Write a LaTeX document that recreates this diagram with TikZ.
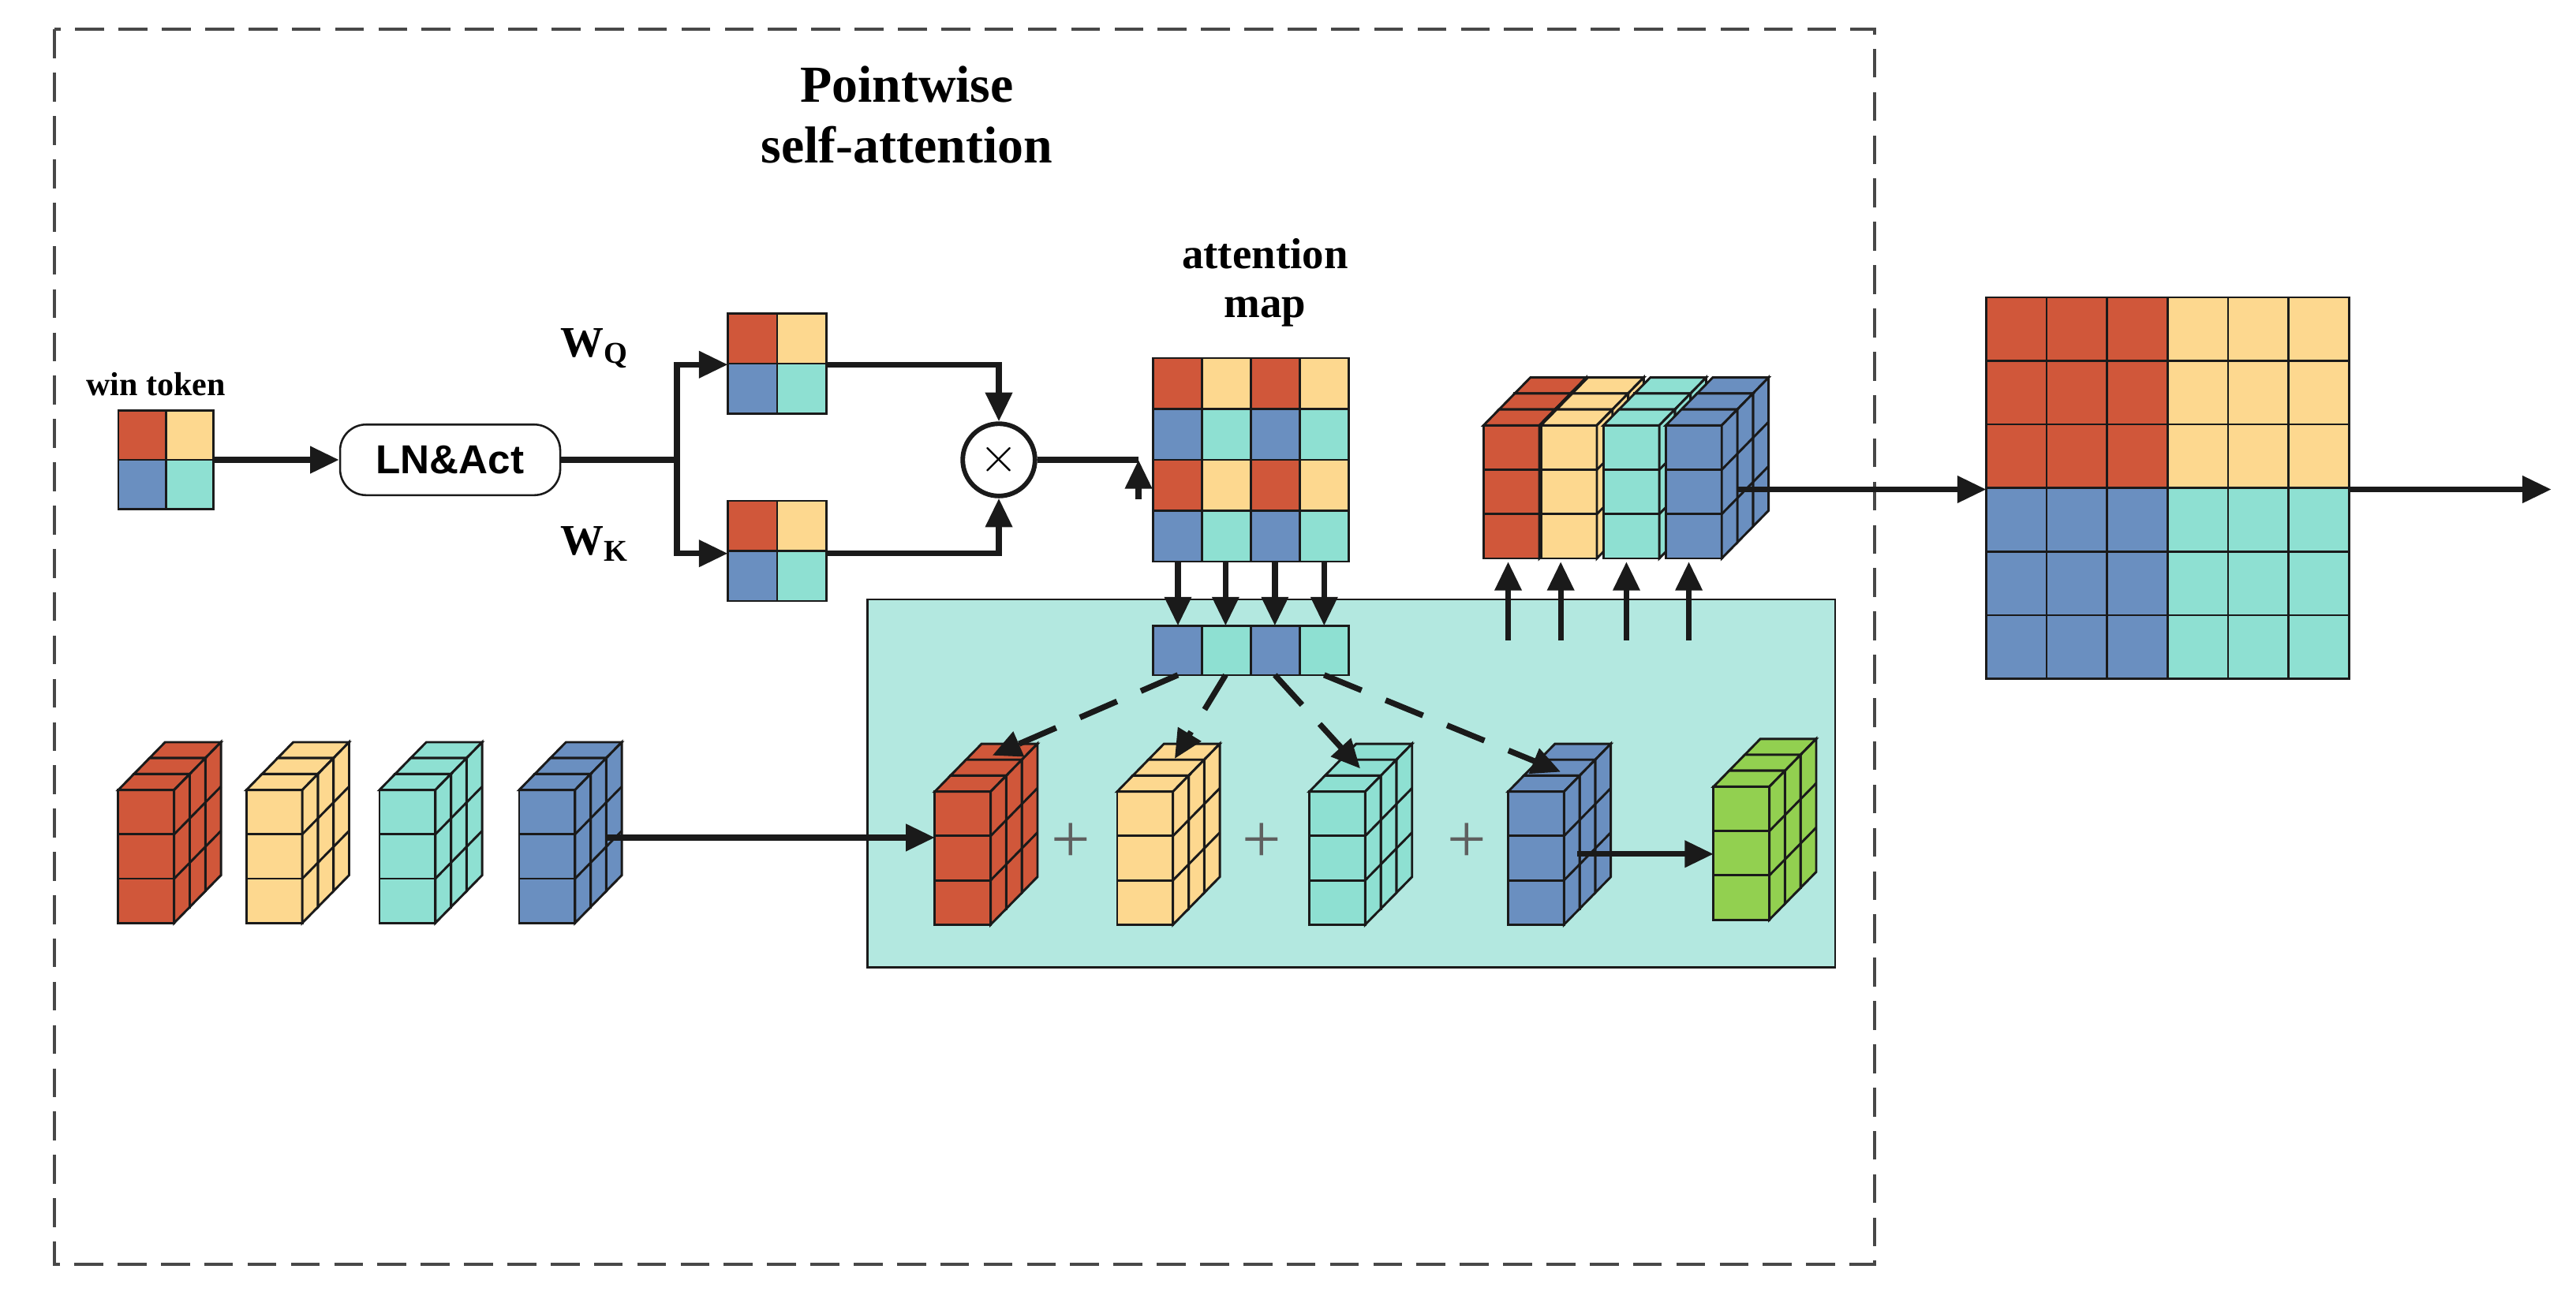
\documentclass[tikz,border=0pt]{standalone}
\usepackage{fontspec}
\setmainfont{Liberation Serif}
\newfontfamily\sansf{Liberation Sans}
\usetikzlibrary{arrows.meta}
\definecolor{cR}{HTML}{D0573A}
\definecolor{cY}{HTML}{FDD88F}
\definecolor{cT}{HTML}{8EE0D2}
\definecolor{cB}{HTML}{6A8FC0}
\definecolor{cG}{HTML}{92D050}
\definecolor{boxT}{HTML}{B3E8E0}
\definecolor{ln}{HTML}{1A1A1A}
\newcommand\cellgrid[5]{% x0 y0 cw ch rows
  \foreach \rw [count=\i from 0] in {#5}{
    \foreach \cc [count=\j from 0] in \rw {
      \filldraw[fill=\cc,draw=ln,line width=0.7pt] ({#1+\j*#3},{#2+\i*#4}) rectangle ++(#3,#4);
    }}}
\tikzset{
  arr/.style={line width=2pt,draw=ln,-{Triangle[length=10pt,width=9pt]}},
  ln/.style={line width=2pt,draw=ln},
  lbl/.style={font=\bfseries\fontsize{15}{17}\selectfont,align=center},
  pics/col/.style={code={
    \foreach \k in {2,1,0}{
      \begin{scope}[shift={(\k*9.5,-\k*9.7)}]
      \filldraw[fill=#1,draw=ln,line width=0.8pt] (0,0) rectangle (34,-81);
      \draw[ln,line width=0.8pt] (0,-27) -- (34,-27) (0,-54) -- (34,-54);
      \filldraw[fill=#1,draw=ln,line width=0.8pt] (0,-81) -- (9.5,-90.7) -- (43.5,-90.7) -- (34,-81) -- cycle;
      \filldraw[fill=#1,draw=ln,line width=0.8pt] (34,0) -- (43.5,-9.7) -- (43.5,-90.7) -- (34,-81) -- cycle;
      \draw[ln,line width=0.8pt] (34,-27) -- (43.5,-36.7) (34,-54) -- (43.5,-63.7);
      \end{scope}}
  }}
}
\begin{document}
\begin{tikzpicture}[x=0.02cm,y=-0.02cm]
\useasboundingbox (0,0) rectangle (1568,800);
% outer dashed frame
\draw[line width=1.1pt,draw=ln!80,dash pattern=on 10pt off 5pt] (33,18) rectangle (1141,770);
\node[lbl,font=\bfseries\fontsize{18}{21}\selectfont] (title) at (552,70) {Pointwise\\self-attention};
% teal box
\filldraw[fill=boxT,draw=ln,line width=0.7pt] (528,365) rectangle (1117,589);
% win token
\node[font=\bfseries\fontsize{11.5}{13}\selectfont] (wt) at (95,234) {win token};
\cellgrid{72}{250}{29}{30}{{cR,cY},{cB,cT}}
\coordinate (tokR) at (130,280);
% LN box
\node[draw=ln,rounded corners=9pt,line width=0.7pt,minimum width=134*0.02cm,minimum height=43*0.02cm,font=\sansf\bfseries\fontsize{14}{16}\selectfont] (ln) at (274,280) {LN\&Act};
\draw[arr] (tokR) -- (ln.west);
% Q and K grids
\cellgrid{443}{191}{30}{30.5}{{cR,cY},{cB,cT}}
\cellgrid{443}{305}{30}{30.5}{{cR,cY},{cB,cT}}
\coordinate (qL) at (443,222); \coordinate (qR) at (503,222);
\coordinate (kL) at (443,337); \coordinate (kR) at (503,337);
\coordinate (br) at (412,280);
\draw[ln] (ln.east) -- (br);
\draw[arr] (br) |- (qL);
\draw[arr] (br) |- (kL);
\node[lbl] (wq) at (362,212) {W\textsubscript{Q}};
\node[lbl] (wk) at (362,331) {W\textsubscript{K}};
% multiply
\node[draw=ln,circle,line width=1.6pt,minimum size=44*0.02cm,inner sep=0,font=\fontsize{18}{18}\selectfont] (mul) at (608,280) {$\times$};
\draw[arr] (qR) -| (mul.north);
\draw[arr] (kR) -| (mul.south);
% attention map
\node[lbl] (am) at (770,172) {attention\\map};
\cellgrid{702}{218}{29.75}{31}{{cR,cY,cR,cY},{cB,cT,cB,cT},{cR,cY,cR,cY},{cB,cT,cB,cT}}
\coordinate (amIn) at (693,280);
\coordinate (amUp) at (693,304);
\draw[ln] (mul.east) -- (amIn);
\draw[arr] (amUp) -- (amIn);
% row vector
\cellgrid{702}{381}{29.75}{30}{{cB,cT,cB,cT}}
\foreach \x [count=\n] in {717,746,776,806}{
  \coordinate (mt\n) at (\x,342); \coordinate (rv\n) at (\x,381); \coordinate (rb\n) at (\x,411);
  \draw[arr] (mt\n) -- (rv\n);
}
% left cubes
\pic at (72,562) {col=cR};
\pic at (150,562) {col=cY};
\pic at (231,562) {col=cT};
\pic at (316,562) {col=cB};
\coordinate (lb) at (370,510);
% inner cubes
\pic at (569,563) {col=cR};
\pic at (680,563) {col=cY};
\pic at (797,563) {col=cT};
\pic at (918,563) {col=cB};
\pic at (1043,560) {col=cG};
\coordinate (ir) at (569,510);
\draw[arr] (lb) -- (ir);
\foreach \x [count=\n] in {652,768,893}{
  \node[font=\fontsize{24}{24}\selectfont,text=ln!70] (p\n) at (\x,513) {+};
}
\coordinate (ib) at (960,520); \coordinate (gr) at (1043,520);
\draw[arr] (ib) -- (gr);
% dashed arrows
\coordinate (d1) at (604,460); \coordinate (d2) at (715,462);
\coordinate (d3) at (828,468); \coordinate (d4) at (950,470);
\foreach \n in {1,2,3,4}{
  \draw[arr,dash pattern=on 14pt off 9pt] (rb\n) -- (d\n);
}
% upper right cubes
\pic at (903,340) {col=cR};
\pic at (938,340) {col=cY};
\pic at (976,340) {col=cT};
\pic at (1014,340) {col=cB};
\foreach \x [count=\n] in {918,950,990,1028}{
  \coordinate (ua\n) at (\x,390); \coordinate (ub\n) at (\x,342);
  \draw[arr] (ua\n) -- (ub\n);
}
% big grid
\cellgrid{1209}{181}{36.8}{38.7}{{cR,cR,cR,cY,cY,cY},{cR,cR,cR,cY,cY,cY},{cR,cR,cR,cY,cY,cY},{cB,cB,cB,cT,cT,cT},{cB,cB,cB,cT,cT,cT},{cB,cB,cB,cT,cT,cT}}
\coordinate (uc) at (1058,298); \coordinate (bgL) at (1209,298);
\coordinate (bgR) at (1430,298); \coordinate (out) at (1553,298);
\draw[arr] (uc) -- (bgL);
\draw[arr] (bgR) -- (out);
\end{tikzpicture}
\end{document}
